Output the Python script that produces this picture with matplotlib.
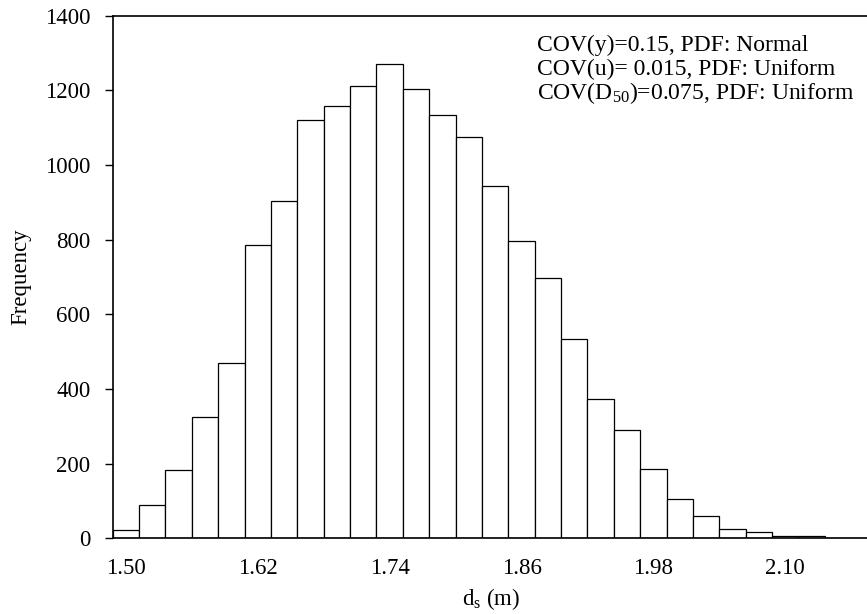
import matplotlib
matplotlib.use('Agg')
import matplotlib.pyplot as plt
from matplotlib import font_manager
import numpy as np

names = sorted({f.name for f in font_manager.fontManager.ttflist})
serif = [n for n in ['Liberation Serif', 'Times New Roman', 'Nimbus Roman',
                     'DejaVu Serif'] if n in names]
plt.rcParams['font.family'] = 'serif'
plt.rcParams['font.serif'] = serif
plt.rcParams['mathtext.fontset'] = 'custom'
plt.rcParams['mathtext.rm'] = serif[0]
plt.rcParams['mathtext.it'] = serif[0] + ':italic'

# histogram of scour depth, bins of 0.024 m centred on these values
bin_width = 0.024
bin_centres = 1.50 + bin_width * np.arange(29)
counts = [22, 88, 182, 325, 470, 787, 905, 1122, 1158, 1213,
          1270, 1203, 1134, 1074, 944, 796, 697, 533, 373, 289,
          185, 106, 59, 24, 16, 6, 6, 2, 2]
tick_values = [1.50, 1.62, 1.74, 1.86, 1.98, 2.10]
tick_labels = ['1.50', '1.62', '1.74', '1.86', '1.98', '2.10']
y_ticks = [0, 200, 400, 600, 800, 1000, 1200, 1400]

notes = ['COV(y)=0.15, PDF: Normal',
         'COV(u)= 0.015, PDF: Uniform',
         r'COV(D$_{50}$)=0.075, PDF: Uniform']

fig = plt.figure(figsize=(8.67, 6.14), dpi=100)
ax = fig.add_axes([0.130, 0.1233, 0.872, 0.851])

ax.bar(bin_centres, counts, width=bin_width, color='white',
       edgecolor='black', linewidth=0.9)

ax.set_xlim(1.488, 2.176)
ax.set_ylim(0, 1400)
ax.set_xticks(tick_values)
ax.set_xticklabels(tick_labels)
ax.set_yticks(y_ticks)

ax.tick_params(axis='x', length=0, pad=14, labelsize=16.5)
ax.tick_params(axis='y', direction='out', length=6, width=1, pad=10,
               labelsize=16.5)

for s in ['left', 'bottom', 'top']:
    ax.spines[s].set_linewidth(1.2)
ax.spines['right'].set_visible(False)

ax.set_xlabel(r'd$_\mathrm{s}$ (m)', fontsize=16.5, labelpad=5)
ax.set_ylabel('Frequency', fontsize=16.5, labelpad=10)

for i, t in enumerate(notes):
    ax.text(0.561, 0.932 - i * 0.046, t, transform=ax.transAxes,
            fontsize=17, va='baseline', ha='left')

fig.savefig('out.png', dpi=100)
